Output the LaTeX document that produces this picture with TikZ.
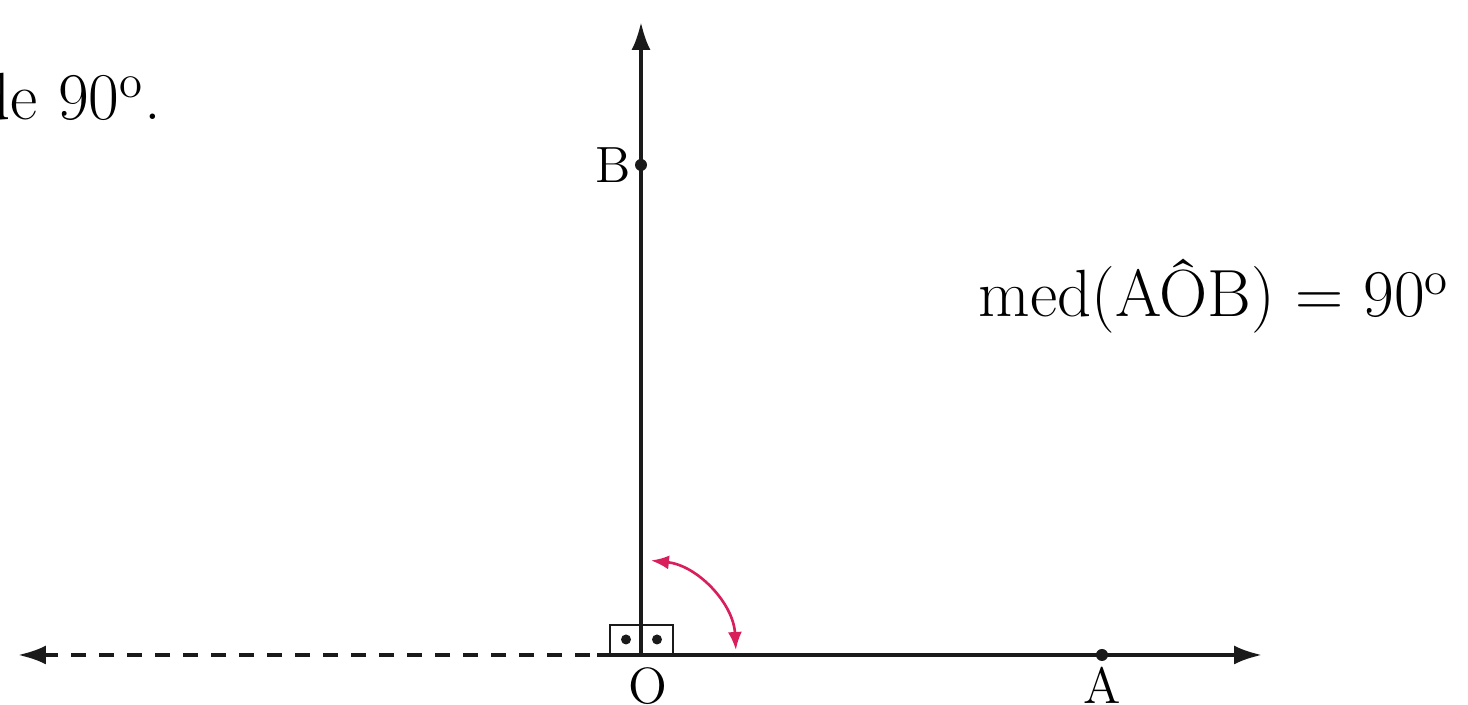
\documentclass[tikz,border=0pt]{standalone}
\usepackage{fontspec}
\usepackage{xcolor}
\usepackage{tikz}
\usetikzlibrary{arrows.meta,positioning}
\definecolor{AngInk}{HTML}{1A1A1A}
\definecolor{AngRed}{HTML}{D81E5B}

\begin{document}
\begin{tikzpicture}[x=1cm,y=1cm,
  ray/.style={AngInk,line width=1.05pt},
  tipbig/.style={-{Latex[length=2.8mm,width=1.9mm]}},
  lbl/.style={inner sep=0pt,font=\fontsize{14.5}{17}\selectfont},
  txt/.style={inner sep=0pt,font=\fontsize{19}{23}\selectfont},
  pt/.style={AngInk}]
\path[use as bounding box] (0,0) rectangle (14.68,7.05);
\coordinate (O) at (6.41,0.50);
\coordinate (A) at (11.02,0.50);
\coordinate (B) at (6.41,5.40);
\coordinate (Otop) at (6.41,6.83);
\coordinate (Oright) at (12.62,0.50);
\coordinate (Oleft) at (5.97,0.50);
\coordinate (Ofar) at (0.18,0.50);
\draw[ray,tipbig] (O) -- (Otop);
\draw[ray,tipbig] (Oleft) -- (Oright);
\draw[ray,tipbig,dash pattern=on 0.15cm off 0.13cm] (5.90,0.50) -- (Ofar);
\draw[AngInk,line width=.8pt] (6.10,0.50) rectangle (6.73,0.80);
\fill[pt] (6.26,0.655) circle (0.05);
\fill[pt] (6.57,0.655) circle (0.05);
\fill[pt] (A) circle (0.06);
\fill[pt] (B) circle (0.06);
\draw[AngRed,line width=.75pt,{Latex[length=1.8mm,width=1.4mm]}-{Latex[length=1.8mm,width=1.4mm]}]
  ([shift={(84:0.95)}]O) arc (84:3:0.95);
\node[lbl,left=0.09cm of B] (lB) {B};
\node[lbl,below=0.12cm of O,xshift=0.07cm] (lO) {O};
\node[lbl,below=0.11cm of A] (lA) {A};
\node[txt,anchor=base west] (med) at (9.78,3.88) {med(A\^OB) = 90\textsuperscript{o}};
\node[txt,anchor=base west] (top) at (-0.24,5.85) {de 90\textsuperscript{o}.};
\end{tikzpicture}
\end{document}
